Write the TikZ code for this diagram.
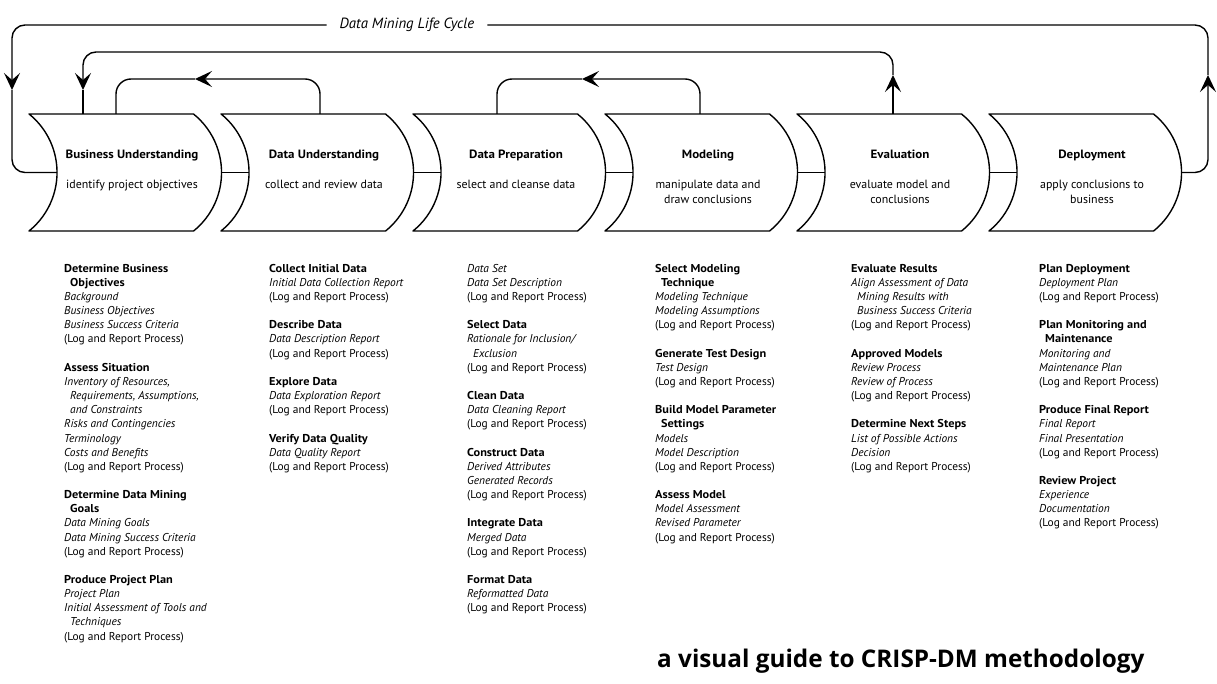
\documentclass[tikz,border=0pt]{standalone}
\usepackage{fontspec}
\setmainfont{PT Sans}[BoldFeatures={FakeStretch=1.08}]
\newfontfamily\titlefont{Open Sans}
\usetikzlibrary{arrows.meta}
\newcommand\lstfont{\fontsize{11.4}{14.15}\selectfont}
\newcommand\hd[1]{\textbf{#1}}
\newcommand\ind{\hspace*{6pt}}
\newcommand\gp{\\[14.15pt]}
\begin{document}
\begin{tikzpicture}[x=1pt,y=-1pt,
  ln/.style={line width=1.4pt, line join=round},
  arr/.style={-{Stealth[length=17pt,width=16pt,inset=7pt]}},
  boxline/.style={line width=1.4pt, line join=round},
  boxtitle/.style={font=\fontsize{12}{14}\selectfont\bfseries, anchor=base, inner sep=0pt},
  boxsub/.style={font=\fontsize{11.9}{15}\selectfont, anchor=north, align=center, inner sep=0pt},
  lst/.style={font=\lstfont, anchor=north west, align=left, inner sep=0pt},
  dmlc/.style={font=\fontsize{14.8}{17}\selectfont\itshape, inner xsep=13pt, inner ysep=2pt}
]
\useasboundingbox (0,0) rectangle (1217,684);
\fill[white] (0,0) rectangle (1217,684);

\foreach \x/\n/\ti/\su in {
 29/b1/{Business Understanding}/{identify project objectives},
 221/b2/{Data Understanding}/{collect and review data},
 413/b3/{Data Preparation}/{select and cleanse data},
 605/b4/{Modeling}/{manipulate data and\\draw conclusions},
 797/b5/{Evaluation}/{evaluate model and\\conclusions},
 989/b6/{Deployment}/{apply conclusions to\\business}}
{
 \draw[boxline] (\x,114) -- ++(164.5,0) arc[start angle=-51.2,end angle=51.2,radius=75.1]
   -- (\x,231) arc[start angle=51.2,end angle=-51.2,radius=75.1] -- cycle;
 \coordinate (\n-l) at (\x+28,172.5);
 \coordinate (\n-r) at (\x+192.5,172.5);
 \node[boxtitle] (\n-t) at (\x+103,159) {\ti};
 \node[boxsub] (\n-s) at (\x+103,177.5) {\strut\su};
}

% connectors between phases
\draw[ln] (b1-r) -- (b2-l);
\draw[ln] (b2-r) -- (b3-l);
\draw[ln] (b3-r) -- (b4-l);
\draw[ln] (b4-r) -- (b5-l);
\draw[ln] (b5-r) -- (b6-l);

% outer life-cycle loop
\node[dmlc] (dm) at (407,25) {Data Mining Life Cycle};
\coordinate (oR) at (1208,75);
\coordinate (oL) at (12,90);
\draw[ln, arr, rounded corners=13pt] (b6-r) -| (oR);
\draw[ln, rounded corners=13pt] (oR) |- (dm.east);
\draw[ln, arr, rounded corners=13pt] (dm.west) -| (oL);
\draw[ln, rounded corners=13pt] (oL) |- (b1-l);

% evaluation back to business understanding
\coordinate (b5-top) at (893,114);
\coordinate (b1-top2) at (83,114);
\coordinate (eU) at (893,75);
\coordinate (eD) at (83,90);
\draw[ln, arr] (b5-top) -- (eU);
\draw[ln, arr, rounded corners=13pt] (eU) |- (83,52) -- (eD);
\draw[ln] (eD) -- (b1-top2);

% data understanding back to business understanding
\coordinate (b2-top) at (320,114);
\coordinate (b1-top3) at (116,114);
\coordinate (a1) at (195,79);
\draw[ln, arr, rounded corners=15pt] (b2-top) |- (a1);
\draw[ln, rounded corners=15pt] (a1) -| (b1-top3);

% modeling back to data preparation
\coordinate (b4-top) at (700,114);
\coordinate (b3-top) at (497,114);
\coordinate (a2) at (582,79);
\draw[ln, arr, rounded corners=15pt] (b4-top) |- (a2);
\draw[ln, rounded corners=15pt] (a2) -| (b3-top);

% task lists
\node[lst] (l1) at (64,262.1) {\strut\hd{Determine Business}\\
\ind\hd{Objectives}\\
\textit{Background}\\
\textit{Business Objectives}\\
\textit{Business Success Criteria}\\
(Log and Report Process)\gp
\hd{Assess Situation}\\
\textit{Inventory of Resources,}\\
\ind\textit{Requirements, Assumptions,}\\
\ind\textit{and Constraints}\\
\textit{Risks and Contingencies}\\
\textit{Terminology}\\
\textit{Costs and Benefits}\\
(Log and Report Process)\gp
\hd{Determine Data Mining}\\
\ind\hd{Goals}\\
\textit{Data Mining Goals}\\
\textit{Data Mining Success Criteria}\\
(Log and Report Process)\gp
\hd{Produce Project Plan}\\
\textit{Project Plan}\\
\textit{Initial Assessment of Tools and}\\
\ind\textit{Techniques}\\
(Log and Report Process)};

\node[lst] (l2) at (269,262.1) {\strut\hd{Collect Initial Data}\\
\textit{Initial Data Collection Report}\\
(Log and Report Process)\gp
\hd{Describe Data}\\
\textit{Data Description Report}\\
(Log and Report Process)\gp
\hd{Explore Data}\\
\textit{Data Exploration Report}\\
(Log and Report Process)\gp
\hd{Verify Data Quality}\\
\textit{Data Quality Report}\\
(Log and Report Process)};

\node[lst] (l3) at (467,262.1) {\strut\textit{Data Set}\\
\textit{Data Set Description}\\
(Log and Report Process)\gp
\hd{Select Data}\\
\textit{Rationale for Inclusion/}\\
\ind\textit{Exclusion}\\
(Log and Report Process)\gp
\hd{Clean Data}\\
\textit{Data Cleaning Report}\\
(Log and Report Process)\gp
\hd{Construct Data}\\
\textit{Derived Attributes}\\
\textit{Generated Records}\\
(Log and Report Process)\gp
\hd{Integrate Data}\\
\textit{Merged Data}\\
(Log and Report Process)\gp
\hd{Format Data}\\
\textit{Reformatted Data}\\
(Log and Report Process)};

\node[lst] (l4) at (655,262.1) {\strut\hd{Select Modeling}\\
\ind\hd{Technique}\\
\textit{Modeling Technique}\\
\textit{Modeling Assumptions}\\
(Log and Report Process)\gp
\hd{Generate Test Design}\\
\textit{Test Design}\\
(Log and Report Process)\gp
\hd{Build Model Parameter}\\
\ind\hd{Settings}\\
\textit{Models}\\
\textit{Model Description}\\
(Log and Report Process)\gp
\hd{Assess Model}\\
\textit{Model Assessment}\\
\textit{Revised Parameter}\\
(Log and Report Process)};

\node[lst] (l5) at (851,262.1) {\strut\hd{Evaluate Results}\\
\textit{Align Assessment of Data}\\
\ind\textit{Mining Results with}\\
\ind\textit{Business Success Criteria}\\
(Log and Report Process)\gp
\hd{Approved Models}\\
\textit{Review Process}\\
\textit{Review of Process}\\
(Log and Report Process)\gp
\hd{Determine Next Steps}\\
\textit{List of Possible Actions}\\
\textit{Decision}\\
(Log and Report Process)};

\node[lst] (l6) at (1039,262.1) {\strut\hd{Plan Deployment}\\
\textit{Deployment Plan}\\
(Log and Report Process)\gp
\hd{Plan Monitoring and}\\
\ind\hd{Maintenance}\\
\textit{Monitoring and}\\
\textit{Maintenance Plan}\\
(Log and Report Process)\gp
\hd{Produce Final Report}\\
\textit{Final Report}\\
\textit{Final Presentation}\\
(Log and Report Process)\gp
\hd{Review Project}\\
\textit{Experience}\\
\textit{Documentation}\\
(Log and Report Process)};

\node[font=\titlefont\fontsize{24.3}{28}\selectfont\bfseries, anchor=base west, inner sep=0pt] (title) at (657,667) {a visual guide to CRISP-DM methodology};
\end{tikzpicture}
\end{document}
